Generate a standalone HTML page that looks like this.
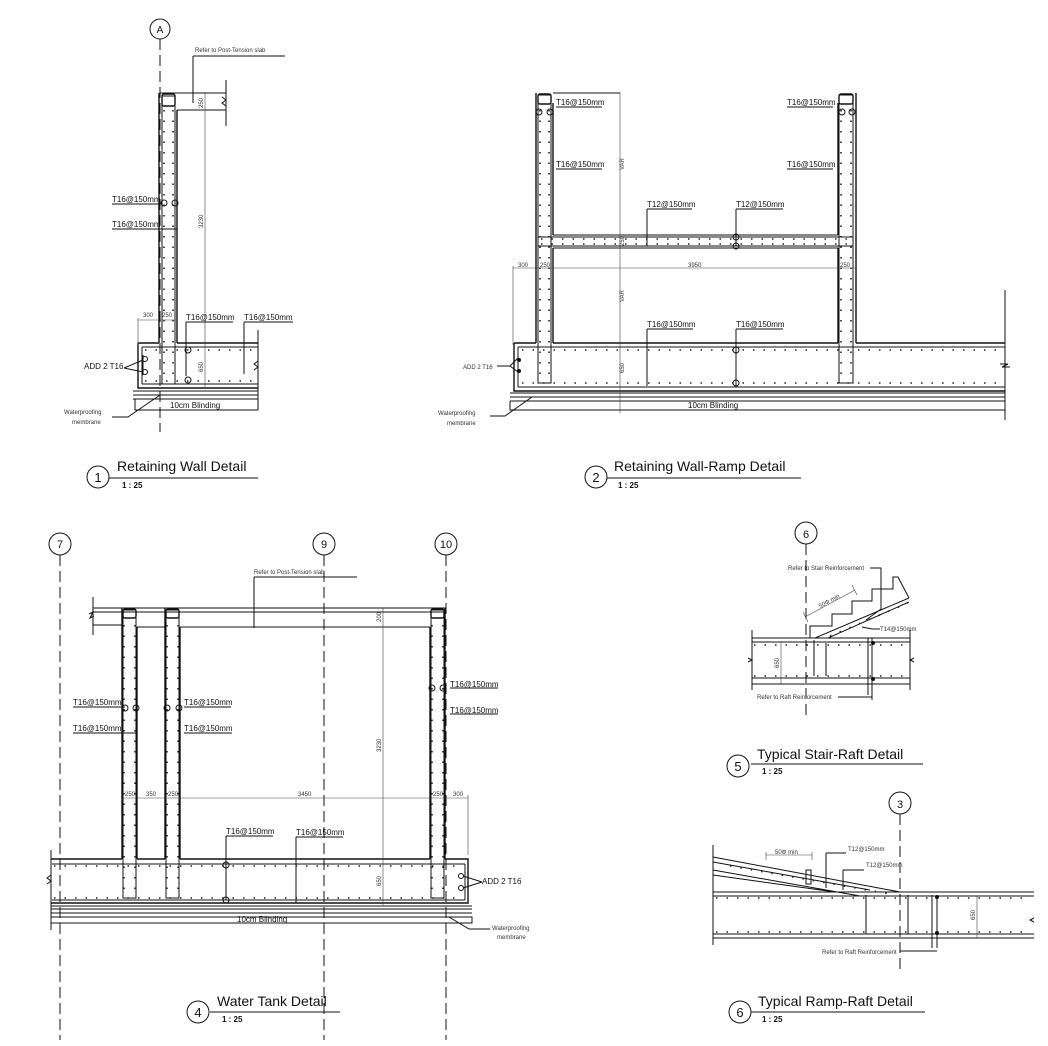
<!DOCTYPE html>
<html><head><meta charset="utf-8"><style>
html,body{margin:0;padding:0;background:#fff}
svg{display:block}
text{font-family:"Liberation Sans",sans-serif;fill:#111}
.l{stroke:#111;stroke-width:1;fill:none}
.t{stroke:#111;stroke-width:1.4;fill:none}
.th{stroke:#444;stroke-width:.6;fill:none}
.d{stroke:#222;stroke-width:1.6;fill:none;stroke-dasharray:1.5 9}
.g{stroke:#111;stroke-width:1;fill:none;stroke-dasharray:11 5}
.s{font-size:8px}
.xs{font-size:6px;fill:#333}
.ti{font-size:14px}
.sc{font-size:8px;font-weight:bold}
</style></head><body>
<svg width="1048" height="1046" viewBox="0 0 1048 1046" xmlns="http://www.w3.org/2000/svg">
<!-- ================= DETAIL 1 ================= -->
<circle cx="160" cy="29" r="10" class="l"/><text x="160" y="33" font-size="10" text-anchor="middle">A</text>
<line x1="160" y1="39" x2="160" y2="432" class="g"/>
<path d="M160 93 H226 M177 110 H226 M226 80 V126" class="l"/>
<path d="M222 97 l4 3 l-4 3 l4 3" class="l"/>
<path d="M159 93 V343 M177 110 V343" class="t"/>
<rect x="162" y="96" width="13" height="288" class="l"/>
<rect x="162" y="94" width="13" height="12" class="t" rx="2"/>
<line x1="164" y1="110" x2="164" y2="380" class="d"/><line x1="173" y1="110" x2="173" y2="380" class="d"/>
<path d="M138 343 H159 M177 343 H258 M138 343 V388 H258" class="t"/>
<path d="M142 347 H258 M142 384 H258 M142 347 V384" class="l"/>
<line x1="145" y1="350" x2="258" y2="350" class="d"/><line x1="145" y1="381" x2="258" y2="381" class="d"/>
<path d="M258 330 V410 M254 370 l4 -3 l-4 -3 l4 -3" class="l"/>
<path d="M133 391 H258 M133 395 H258 M133 399 H258 M135 399 V410 H258" class="l"/>
<text x="170" y="408" class="s">10cm Blinding</text>
<line x1="205" y1="93" x2="205" y2="388" class="th"/>
<text transform="translate(203,228) rotate(-90)" class="xs">3230</text>
<text transform="translate(203,108) rotate(-90)" class="xs">250</text>
<text transform="translate(203,372) rotate(-90)" class="xs">650</text>
<path d="M138 320 H177 M138 318 V345" class="th"/>
<text x="143" y="317" class="xs">300</text><text x="162" y="317" class="xs">250</text>
<path d="M193 56 H285 M193 56 V103" class="l"/><text x="195" y="52" class="xs">Refer to Post-Tension slab</text>
<path d="M112 204 H160 M112 229 H177" class="l"/>
<circle cx="164" cy="203" r="3" class="l"/><circle cx="175" cy="203" r="3" class="l"/>
<text x="112" y="202" class="s">T16@150mm</text><text x="112" y="227" class="s">T16@150mm</text>
<path d="M186 322 H233 M186 322 V376 M244 322 H293 M244 322 V374" class="l"/>
<text x="186" y="320" class="s">T16@150mm</text><text x="244" y="320" class="s">T16@150mm</text>
<circle cx="188" cy="350" r="3" class="l"/><circle cx="188" cy="380" r="3" class="l"/>
<circle cx="145" cy="359" r="2.5" class="l"/><circle cx="145" cy="372" r="2.5" class="l"/>
<path d="M124 368 L143 360 M124 368 L143 372 M143 355 V375" class="l"/>
<text x="84" y="369" class="s">ADD 2 T16</text>
<path d="M112 417 H128 L160 395" class="l"/>
<text x="64" y="414" class="xs" font-size="7">Waterproofing</text><text x="72" y="424" class="xs" font-size="7">membrane</text>
<circle cx="98" cy="477" r="11" class="l"/><text x="98" y="482" font-size="13" text-anchor="middle">1</text>
<text x="117" y="471" class="ti">Retaining Wall Detail</text><line x1="109" y1="478" x2="258" y2="478" class="l"/>
<text x="122" y="488" class="sc">1 : 25</text>

<!-- ================= DETAIL 2 ================= -->
<path d="M536 93 V343 M553 103 V235 M553 248 V343 M838 103 V235 M838 248 V343 M856 93 V343" class="t"/>
<rect x="538" y="95" width="13" height="288" class="l"/><rect x="839" y="95" width="14" height="288" class="l"/>
<rect x="538" y="94" width="13" height="10" class="t" rx="2"/><rect x="839" y="94" width="14" height="10" class="t" rx="2"/>
<line x1="540" y1="110" x2="540" y2="380" class="d"/><line x1="549" y1="110" x2="549" y2="380" class="d"/>
<line x1="841" y1="110" x2="841" y2="380" class="d"/><line x1="851" y1="110" x2="851" y2="380" class="d"/>
<path d="M553 93 H620 M553 235 H838 M553 248 H838" class="l"/>
<rect x="538" y="237" width="315" height="9" class="l"/>
<line x1="541" y1="239" x2="851" y2="239" class="d"/><line x1="541" y1="244" x2="851" y2="244" class="d"/>
<path d="M514 343 H536 M553 343 H838 M856 343 H1005 M514 343 V391 H1005" class="t"/>
<path d="M518 347 H1005 M518 387 H1005 M518 347 V387" class="l"/>
<line x1="522" y1="350" x2="1003" y2="350" class="d"/><line x1="522" y1="383" x2="1003" y2="383" class="d"/>
<path d="M1005 290 V420 M1000 364 l8 0 l-6 3 l8 0" class="l"/>
<path d="M510 393 H1005 M510 397 H1005 M510 401 H1005 M510 401 V410 H1005" class="l"/>
<text x="688" y="408" class="s">10cm Blinding</text>
<line x1="620" y1="93" x2="620" y2="413" class="th"/>
<text transform="translate(624,170) rotate(-90)" class="xs">VAR</text>
<text transform="translate(624,302) rotate(-90)" class="xs">VAR</text>
<text transform="translate(624,246) rotate(-90)" class="xs">250</text>
<text transform="translate(624,373) rotate(-90)" class="xs">650</text>
<path d="M513 268 H856 M513 266 V345" class="th"/>
<text x="518" y="267" class="xs">300</text><text x="540" y="267" class="xs">250</text>
<text x="688" y="267" class="xs">3950</text><text x="840" y="267" class="xs">250</text>
<path d="M556 107 H602 M556 169 H602 M787 107 H833 M787 169 H833" class="l"/>
<text x="556" y="105" class="s">T16@150mm</text><text x="556" y="167" class="s">T16@150mm</text>
<text x="787" y="105" class="s">T16@150mm</text><text x="787" y="167" class="s">T16@150mm</text>
<circle cx="539" cy="112" r="3" class="l"/><circle cx="550" cy="112" r="3" class="l"/>
<circle cx="842" cy="112" r="3" class="l"/><circle cx="852" cy="112" r="3" class="l"/>
<path d="M647 209 H692 M647 209 V246 M736 209 H783 M736 209 V246 M647 329 H693 M647 329 V386 M736 329 H783 M736 329 V386" class="l"/>
<text x="647" y="207" class="s">T12@150mm</text><text x="736" y="207" class="s">T12@150mm</text>
<text x="647" y="327" class="s">T16@150mm</text><text x="736" y="327" class="s">T16@150mm</text>
<circle cx="736" cy="237" r="3" class="l"/><circle cx="736" cy="246" r="3" class="l"/>
<circle cx="736" cy="350" r="3" class="l"/><circle cx="736" cy="383" r="3" class="l"/>
<circle cx="519" cy="360" r="2" fill="#111"/><circle cx="519" cy="371" r="2" fill="#111"/>
<path d="M497 366 H510 L518 358 M510 366 L518 372" class="l"/>
<text x="463" y="369" class="xs" font-size="7">ADD 2 T16</text>
<path d="M490 416 H505 L532 397" class="l"/>
<text x="438" y="415" class="xs" font-size="7">Waterproofing</text><text x="447" y="425" class="xs" font-size="7">membrane</text>
<circle cx="596" cy="477" r="11" class="l"/><text x="596" y="482" font-size="13" text-anchor="middle">2</text>
<text x="614" y="471" class="ti">Retaining Wall-Ramp Detail</text><line x1="607" y1="478" x2="801" y2="478" class="l"/>
<text x="618" y="488" class="sc">1 : 25</text>

<!-- ================= DETAIL 4 ================= -->
<circle cx="60" cy="544" r="11" class="l"/><text x="60" y="548" font-size="11" text-anchor="middle">7</text>
<circle cx="324" cy="544" r="11" class="l"/><text x="324" y="548" font-size="11" text-anchor="middle">9</text>
<circle cx="446" cy="544" r="11" class="l"/><text x="446" y="548" font-size="11" text-anchor="middle">10</text>
<line x1="60" y1="555" x2="60" y2="1040" class="g"/>
<line x1="324" y1="555" x2="324" y2="1040" class="g"/>
<line x1="446" y1="555" x2="446" y2="1040" class="g"/>
<path d="M93 608 H446 M93 612 H446 M93 625 H122 M137 627 H165 M180 627 H430" class="l"/>
<path d="M93 597 V635 M89 614 l4 -2 l-3 6 l4 -2" class="l"/>
<path d="M122 608 V859 M137 627 V859 M165 608 V859 M180 627 V859 M430 627 V859 M445 608 V859" class="t"/>
<rect x="123" y="610" width="13" height="288" class="l"/><rect x="166" y="610" width="13" height="288" class="l"/><rect x="431" y="610" width="13" height="288" class="l"/>
<rect x="123" y="609" width="13" height="9" class="t" rx="2"/><rect x="166" y="609" width="13" height="9" class="t" rx="2"/><rect x="431" y="609" width="13" height="9" class="t" rx="2"/>
<line x1="124" y1="625" x2="124" y2="895" class="d"/><line x1="135" y1="625" x2="135" y2="895" class="d"/>
<line x1="167" y1="625" x2="167" y2="895" class="d"/><line x1="178" y1="625" x2="178" y2="895" class="d"/>
<line x1="432" y1="625" x2="432" y2="895" class="d"/><line x1="443" y1="625" x2="443" y2="895" class="d"/>
<path d="M51 859 H122 M137 859 H165 M180 859 H430 M445 859 H468 V903 H51" class="t"/>
<path d="M52 864 H465 M52 900 H465 M465 864 V900" class="l"/>
<line x1="54" y1="866" x2="462" y2="866" class="d"/><line x1="54" y1="898" x2="462" y2="898" class="d"/>
<path d="M51 850 V930 M47 884 l4 -3 l-4 -3 l4 -3" class="l"/>
<path d="M51 906 H472 M51 909 H472 M51 913 H472 M51 917 H472 V923 H51" class="l"/>
<text x="237" y="922" class="s">10cm Blinding</text>
<line x1="383" y1="608" x2="383" y2="905" class="th"/>
<text transform="translate(381,622) rotate(-90)" class="xs">200</text>
<text transform="translate(381,752) rotate(-90)" class="xs">3230</text>
<text transform="translate(381,886) rotate(-90)" class="xs">650</text>
<path d="M122 798 H468 M468 795 V855" class="th"/>
<text x="125" y="796" class="xs">250</text><text x="146" y="796" class="xs">350</text><text x="168" y="796" class="xs">250</text>
<text x="298" y="796" class="xs">3450</text><text x="433" y="796" class="xs">250</text><text x="453" y="796" class="xs">300</text>
<path d="M254 577 H357 M254 577 V628" class="l"/><text x="254" y="574" class="xs">Refer to Post-Tension slab</text>
<path d="M73 707 H125 M73 733 H137 M184 707 H231 M184 733 H232 M450 688 H498 M450 714 H498" class="l"/>
<text x="73" y="705" class="s">T16@150mm</text><text x="73" y="731" class="s">T16@150mm</text>
<text x="184" y="705" class="s">T16@150mm</text><text x="184" y="731" class="s">T16@150mm</text>
<text x="450" y="687" class="s">T16@150mm</text><text x="450" y="713" class="s">T16@150mm</text>
<circle cx="125" cy="708" r="3" class="l"/><circle cx="136" cy="708" r="3" class="l"/>
<circle cx="167" cy="708" r="3" class="l"/><circle cx="179" cy="708" r="3" class="l"/>
<circle cx="432" cy="688" r="3" class="l"/><circle cx="443" cy="688" r="3" class="l"/>
<path d="M226 836 H273 M226 836 V900 M296 837 H343 M296 837 V903" class="l"/>
<text x="226" y="834" class="s">T16@150mm</text><text x="296" y="835" class="s">T16@150mm</text>
<circle cx="226" cy="865" r="3" class="l"/><circle cx="226" cy="900" r="3" class="l"/>
<circle cx="461" cy="876" r="2.5" class="l"/><circle cx="461" cy="888" r="2.5" class="l"/>
<path d="M482 882 L463 876 M482 882 L463 888" class="l"/>
<text x="482" y="884" class="s">ADD 2 T16</text>
<path d="M449 917 L469 929 H490" class="l"/>
<text x="492" y="930" class="xs" font-size="7">Waterproofing</text><text x="497" y="939" class="xs" font-size="7">membrane</text>
<circle cx="198" cy="1012" r="11" class="l"/><text x="198" y="1017" font-size="13" text-anchor="middle">4</text>
<text x="217" y="1006" class="ti">Water Tank Detail</text><line x1="210" y1="1012" x2="340" y2="1012" class="l"/>
<text x="222" y="1022" class="sc">1 : 25</text>

<!-- ================= DETAIL 5 ================= -->
<circle cx="806" cy="533" r="11" class="l"/><text x="806" y="538" font-size="11" text-anchor="middle">6</text>
<line x1="806" y1="544" x2="806" y2="720" class="g"/>
<path d="M752 638 H910 M752 642 H910 M752 678 H910 M752 684 H910 M752 630 V690 M910 630 V690" class="l"/>
<line x1="754" y1="645" x2="908" y2="645" class="d"/><line x1="754" y1="676" x2="908" y2="676" class="d"/>
<path d="M748 662 l4 -2 l-4 -2 M914 662 l-4 -2 l4 -2" class="l"/>
<line x1="781" y1="642" x2="781" y2="684" class="th"/>
<text transform="translate(779,668) rotate(-90)" class="xs">650</text>
<path d="M810 638 V626 H832 V614 H852 V601 H872 V589 H893 V577 H898 L909 598" class="l"/>
<path d="M815 638 L909 598 M828 638 L909 602" class="l"/>
<line x1="830" y1="636" x2="908" y2="603" class="d"/>
<path d="M814 640 V676 M826 643 V676 M868 638 V695 M872 638 V700" class="l"/>
<circle cx="873" cy="643" r="2" fill="#111"/><circle cx="873" cy="679" r="2" fill="#111"/>
<path d="M805 617 L855 590 M803 612 L808 622 M852 585 L857 595" class="th"/>
<text transform="translate(820,608) rotate(-28)" class="xs">50Φ min</text>
<path d="M870 568 H881 V609 L866 620" class="l"/><text x="788" y="570" class="xs">Refer to Stair Reinforcement</text>
<path d="M862 627 L872 629 H880" class="l"/><text x="880" y="631" class="xs">T14@150mm</text>
<path d="M838 697 H872" class="l"/><text x="757" y="699" class="xs">Refer to Raft Reinforcement</text>
<circle cx="738" cy="766" r="11" class="l"/><text x="738" y="771" font-size="13" text-anchor="middle">5</text>
<text x="757" y="759" class="ti">Typical Stair-Raft Detail</text><line x1="751" y1="764" x2="923" y2="764" class="l"/>
<text x="762" y="774" class="sc">1 : 25</text>

<!-- ================= DETAIL 6 ================= -->
<circle cx="900" cy="803" r="11" class="l"/><text x="900" y="808" font-size="11" text-anchor="middle">3</text>
<line x1="900" y1="814" x2="900" y2="970" class="g"/>
<path d="M713 892 H1034 M713 896 H1034 M713 934 H1034 M713 938 H1034 M713 845 V945" class="l"/>
<line x1="716" y1="898" x2="1030" y2="898" class="d"/><line x1="716" y1="932" x2="1030" y2="932" class="d"/>
<path d="M1034 918 l-4 2 l4 2" class="l"/>
<path d="M713 857 L900 892 M713 862 L870 890 M713 870 L860 896 M713 875 L835 892" class="l"/>
<line x1="730" y1="866" x2="890" y2="894" class="d"/>
<path d="M806 870 h5 v14 h-5 z" class="l"/>
<path d="M766 855 H812 M766 852 V860 M812 852 V860" class="th"/>
<text x="775" y="854" class="xs">50Φ min</text>
<path d="M866 895 V934 M908 895 V934 M932 895 V948 M937 895 V948" class="l"/>
<circle cx="937" cy="897" r="2" fill="#111"/><circle cx="937" cy="933" r="2" fill="#111"/>
<path d="M826 853 H846 M826 853 V888 M843 870 H864 M843 870 V890" class="l"/>
<text x="848" y="851" class="xs">T12@150mm</text><text x="866" y="867" class="xs">T12@150mm</text>
<line x1="977" y1="896" x2="977" y2="938" class="th"/>
<text transform="translate(975,920) rotate(-90)" class="xs">650</text>
<path d="M900 951 H937" class="l"/><text x="822" y="954" class="xs">Refer to Raft Reinforcement</text>
<circle cx="740" cy="1012" r="11" class="l"/><text x="740" y="1017" font-size="13" text-anchor="middle">6</text>
<text x="758" y="1006" class="ti">Typical Ramp-Raft Detail</text><line x1="751" y1="1012" x2="925" y2="1012" class="l"/>
<text x="762" y="1022" class="sc">1 : 25</text>
</svg>
</body></html>
